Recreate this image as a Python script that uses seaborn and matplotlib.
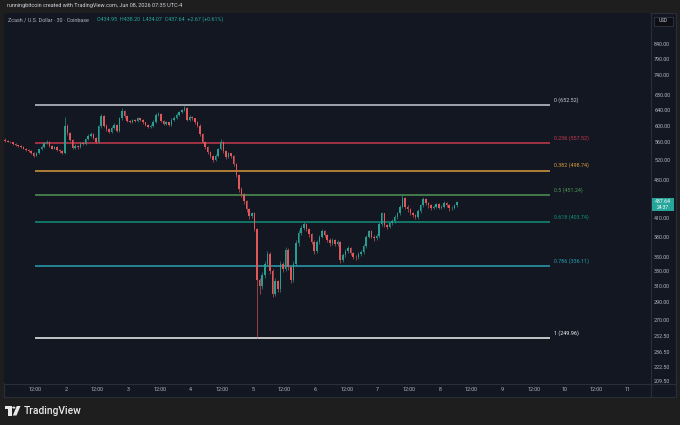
import numpy as np
import pandas as pd
import matplotlib
matplotlib.use("Agg")
import matplotlib.pyplot as plt
from matplotlib.patches import Rectangle, Polygon, Circle
from matplotlib.lines import Line2D
import seaborn as sns

# ---------------- data (hourly candles, Jun 1 00:00 onward) ----------------
first_open = 566.0
closes = [564, 562, 560, 556, 553, 551, 549, 546, 543, 541, 536, 530, 536, 544, 550, 558, 561, 552, 546, 549, 543, 540, 536, 598,
          582, 566, 548, 552, 549, 558, 556, 568, 575, 580, 570, 561, 598, 624, 600, 592, 585, 595, 602, 587, 618, 638, 624, 612,
          610, 614, 612, 618, 615, 608, 602, 597, 600, 610, 628, 630, 612, 604, 608, 602, 615, 620, 628, 634, 640, 645, 615, 622,
          618, 608, 600, 580, 562, 550, 538, 530, 521, 530, 545, 562, 540, 528, 535, 530, 512, 490, 462, 452, 440, 425, 414, 418,
          392, 318, 310, 325, 340, 354, 330, 300, 316, 306, 340, 333, 360, 335, 318, 340, 370, 386, 394, 400, 392, 384, 372, 358,
          372, 380, 389, 382, 375, 370, 374, 368, 371, 345, 352, 358, 362, 355, 350, 349, 354, 356, 366, 380, 388, 380, 377, 381,
          400, 418, 398, 396, 401, 405, 412, 418, 430, 446, 430, 425, 419, 415, 412, 422, 432, 444, 436, 432, 428, 430, 434, 428,
          430, 436, 432, 427, 428, 432, 437.64]
highs = [569, 566, 564, 562, 558, 555, 553, 551, 548, 546, 543, 538, 539, 546, 553, 562, 565, 563, 554, 552, 551, 545, 542, 622,
         604, 585, 568, 556, 554, 561, 560, 571, 579, 584, 581, 572, 602, 630, 626, 603, 594, 598, 606, 604, 622, 644, 640, 627,
         614, 617, 616, 621, 620, 617, 610, 604, 603, 613, 632, 635, 632, 614, 611, 610, 618, 624, 631, 637, 643, 652.52, 647, 626,
         624, 620, 611, 603, 583, 564, 552, 540, 532, 533, 548, 568, 564, 542, 538, 537, 532, 514, 492, 466, 454, 442, 428, 421,
         420, 394, 320, 329, 344, 358, 356, 333, 320, 318, 344, 342, 364, 362, 337, 343, 374, 390, 398, 404, 402, 394, 386, 374,
         375, 383, 392, 391, 384, 377, 377, 376, 374, 373, 355, 361, 365, 364, 357, 352, 357, 359, 369, 383, 391, 390, 382, 384,
         403, 421, 419, 400, 404, 408, 415, 421, 433, 451, 448, 432, 427, 421, 417, 425, 435, 448, 446, 438, 434, 433, 437, 436,
         433, 439, 438, 434, 431, 435, 439]
lows = [562, 560, 558, 554, 551, 549, 547, 544, 541, 539, 534, 527, 529, 534, 542, 548, 556, 550, 544, 544, 541, 537, 533, 534,
        578, 563, 545, 546, 546, 547, 553, 554, 566, 572, 567, 558, 558, 595, 597, 588, 582, 582, 592, 584, 585, 615, 620, 608,
        606, 607, 609, 609, 612, 605, 599, 594, 595, 597, 607, 625, 609, 601, 601, 599, 600, 612, 617, 625, 631, 637, 611, 612,
        614, 604, 596, 576, 558, 546, 534, 526, 517, 518, 527, 542, 536, 524, 525, 526, 508, 486, 457, 447, 435, 420, 409, 410,
        388, 249.96, 300, 306, 321, 336, 326, 296, 297, 302, 303, 329, 330, 331, 314, 315, 337, 366, 383, 391, 389, 380, 368, 354,
        355, 369, 377, 379, 372, 366, 367, 365, 365, 341, 342, 349, 355, 352, 347, 345, 346, 351, 353, 363, 377, 377, 373, 374,
        378, 397, 395, 392, 393, 398, 402, 409, 415, 427, 426, 421, 415, 411, 408, 409, 419, 429, 432, 428, 424, 425, 427, 425,
        425, 427, 429, 423, 424, 425, 430]

fib_ratios = ["0", "0.236", "0.382", "0.5", "0.618", "0.786", "1"]
fib_prices = [652.52, 557.52, 498.74, 451.24, 403.74, 336.11, 249.96]
fib_colors = ["#c8cbd2", "#c8394f", "#d99a3a", "#4e9656", "#12907a", "#2a9fb4", "#f4f4f4"]

price_ticks = [840, 790, 740, 680, 640, 600, 560, 520, 480, 410, 380, 350, 330, 310,
               290, 270, 252.5, 236.5, 222.5, 209.5]
time_tick_labels = ["12:00", "2", "12:00", "3", "12:00", "4", "12:00", "5", "12:00", "6",
                    "12:00", "7", "12:00", "8", "12:00", "9", "12:00", "10", "12:00", "11"]

header_text = "runningbitcoin created with TradingView.com, Jun 08, 2026 07:35 UTC-4"
symbol_text = "Zcash / U.S. Dollar · 30 · Coinbase"
ohlc_text = "O434.95  H438.20  L434.07  C437.64  +2.67 (+0.61%)"
last_price = "437.64"
countdown = "24:37"

# ---------------- frame ----------------
opens = [first_open] + closes[:-1]
df = pd.DataFrame({"open": opens, "high": highs, "low": lows, "close": closes})
df["t"] = np.arange(len(df)) + 0.5
df["up"] = df["close"] >= df["open"]

sns.set_theme(style="dark")
plt.rcParams["font.family"] = ["Roboto", "DejaVu Sans"]

W, H = 680, 425
OUTER = "#1e1e1e"
PANEL = "#131722"
GRIDC = "#2a2e39"
UP = "#26a69a"
DOWN = "#ef5350"
UP_C = "#2a9d91"
DOWN_C = "#e2575a"
TXT = "#b2b5be"

fig = plt.figure(figsize=(W / 100, H / 100), dpi=100, facecolor=OUTER)

def fx(x):
    return x / W

def fy(y):
    return 1 - y / H

# panel background
fig.patches.append(Rectangle((fx(4), fy(397)), fx(672), 384 / H, transform=fig.transFigure,
                             facecolor=PANEL, edgecolor=GRIDC, linewidth=0.8, zorder=-5))

ax = fig.add_axes([fx(4), fy(383), fx(646), 370 / H], zorder=2)
ax.set_facecolor(PANEL)
ax.set_yscale("log")
ax.set_ylim(207.9, 954)
ax.set_xlim(0.06, 248.8)
for s in ax.spines.values():
    s.set_visible(False)
ax.grid(False)

# candles
cols = np.where(df["up"], UP_C, DOWN_C)
ax.vlines(df["t"], df["low"], df["high"], colors=cols, linewidth=0.45, zorder=3)
body_bottom = np.minimum(df["open"], df["close"])
body_h = np.maximum(np.abs(df["close"] - df["open"]), 0.6)
ax.bar(df["t"], body_h, bottom=body_bottom, width=0.6, color=cols, linewidth=0, zorder=4)

# fib levels
x0, x1 = 12.0, 210.3
for r, p, c in zip(fib_ratios, fib_prices, fib_colors):
    ax.hlines(p, x0, x1, colors=c, linewidth=1.1, zorder=2)
    ax.annotate(f"{r} ({p:.2f})", xy=(x1 + 1.5, p), xytext=(0, 3.6), textcoords="offset points",
                color=c, fontsize=3.9, va="center", ha="left")

# y axis on right
ax.yaxis.tick_right()
ax.set_yticks(price_ticks)
ax.set_yticklabels([f"{v:.2f}" for v in price_ticks])
ax.yaxis.set_minor_locator(matplotlib.ticker.NullLocator())
ax.tick_params(axis="y", which="both", length=0, pad=3.0, labelsize=3.9, labelcolor=TXT)
ax.set_xticks([12 * (i + 1) for i in range(len(time_tick_labels))])
ax.set_xticklabels(time_tick_labels)
ax.tick_params(axis="x", length=0, pad=3.2, labelsize=3.9, labelcolor=TXT)

# separators
fig.add_artist(Line2D([fx(650.5), fx(650.5)], [fy(13), fy(397)], color=GRIDC, linewidth=0.8, zorder=3))
fig.add_artist(Line2D([fx(4), fx(676)], [fy(383.5), fy(383.5)], color=GRIDC, linewidth=0.8, zorder=3))

# header texts
fig.text(fx(7), fy(6), header_text, color="#d1d4dc", fontsize=4.0, va="center", ha="left")
fig.text(fx(8), fy(19.5), symbol_text, color=TXT, fontsize=3.9, va="center", ha="left", zorder=5)
fig.text(fx(97), fy(19.5), ohlc_text, color=UP, fontsize=3.9, va="center", ha="left", zorder=5)

# USD box
fig.patches.append(Rectangle((fx(653.5), fy(26)), fx(19), 9.5 / H, transform=fig.transFigure,
                             facecolor="#0c0e14", edgecolor="#3a3e48", linewidth=0.5, zorder=5))
fig.text(fx(663), fy(21), "USD", color="#d1d4dc", fontsize=3.4, va="center", ha="center", zorder=6)

# last price box
fig.patches.append(Rectangle((fx(651.5), fy(211)), fx(22.5), 13.5 / H, transform=fig.transFigure,
                             facecolor=UP, edgecolor="none", zorder=5))
fig.text(fx(662.5), fy(201.2), last_price, color="white", fontsize=3.7, va="center", ha="center", zorder=6)
fig.text(fx(662.5), fy(207.6), countdown, color="white", fontsize=3.5, va="center", ha="center", zorder=6)

# TradingView logo
LOGO = "#e8e8e8"
fig.patches.append(Polygon([(fx(5), fy(406)), (fx(11.5), fy(406)), (fx(11.5), fy(415.5)),
                            (fx(8.3), fy(415.5)), (fx(8.3), fy(409)), (fx(5), fy(409))],
                           closed=True, transform=fig.transFigure, facecolor=LOGO, edgecolor="none"))
fig.patches.append(Circle((fx(13.8), fy(407.6)), 1.6 / W, transform=fig.transFigure,
                          facecolor=LOGO, edgecolor="none"))
fig.patches.append(Polygon([(fx(16.8), fy(406)), (fx(20.5), fy(406)), (fx(16.5), fy(415.5)),
                            (fx(12.8), fy(415.5))],
                           closed=True, transform=fig.transFigure, facecolor=LOGO, edgecolor="none"))
fig.text(fx(23.5), fy(410.8), "TradingView", color=LOGO, fontsize=7.4, va="center", ha="left",
         fontweight="medium")

fig.savefig("out.png", dpi=100, facecolor=OUTER)
